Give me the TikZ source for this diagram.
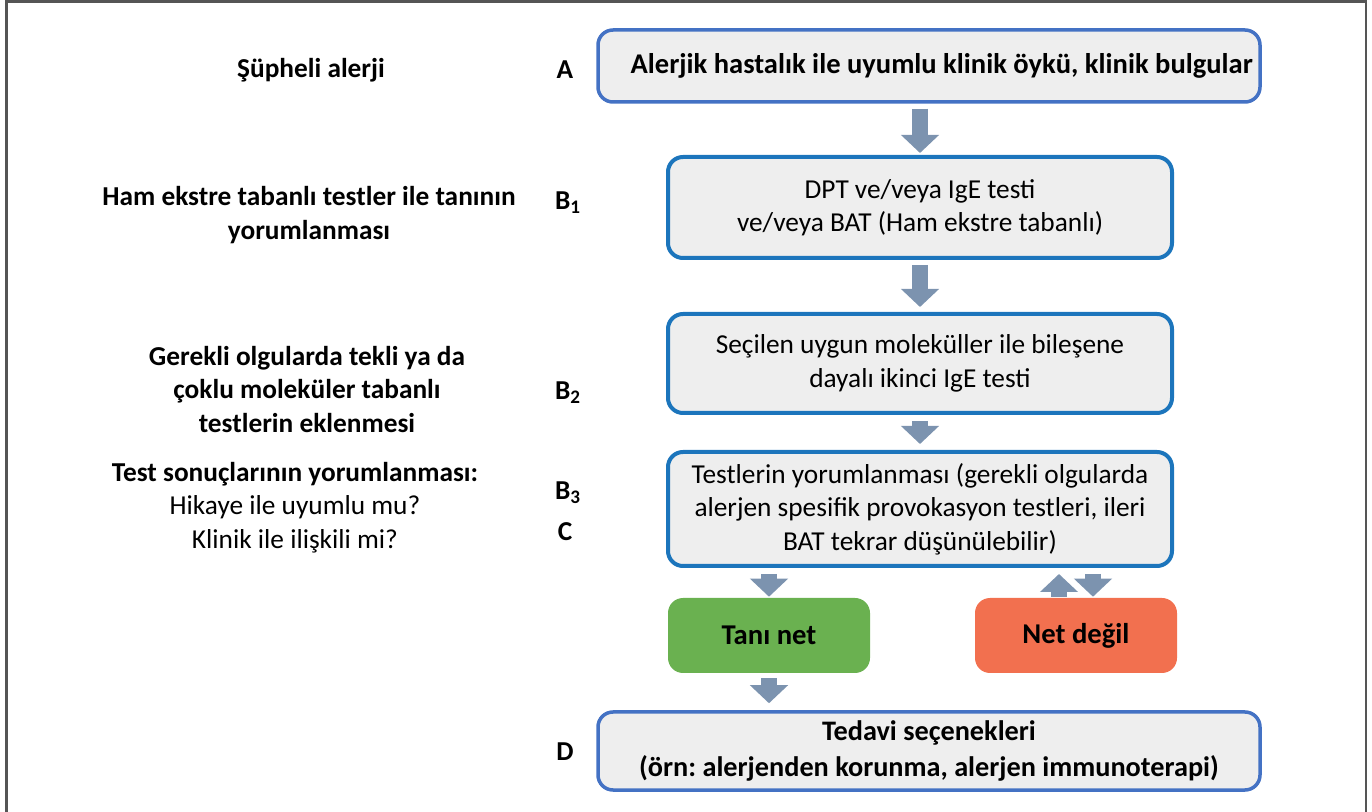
\documentclass[tikz,border=0pt]{standalone}
\usepackage{fontspec}
\setmainfont{Carlito}
\usetikzlibrary{arrows.meta}
\frenchspacing
\def\upx{0.75pt}
\definecolor{boxfill}{HTML}{EEEEEE}
\definecolor{edgeA}{HTML}{4472C4}
\definecolor{edgeB}{HTML}{1C75BC}
\definecolor{flowgray}{HTML}{7C93AF}
\definecolor{okgreen}{HTML}{6AB150}
\definecolor{warnred}{HTML}{F2704F}
\definecolor{framegray}{HTML}{555555}
\tikzset{
  txt/.style={font=\fontsize{20.5}{25}\selectfont, align=center, inner sep=0pt},
  stepbox/.style={txt, rectangle, rounded corners=15*\upx, fill=boxfill, draw=edgeB, line width=4*\upx},
  wide/.style={stepbox, draw=edgeA, line width=3.5*\upx, minimum width=662*\upx},
  mid/.style={stepbox, minimum width=504*\upx},
  verdict/.style={txt, rectangle, rounded corners=15*\upx, minimum width=202*\upx, minimum height=75*\upx, font=\fontsize{21.5}{25}\selectfont\bfseries},
  lbl/.style={txt, font=\fontsize{20.5}{25}\selectfont\bfseries},
  flow/.style={draw=flowgray, line width=16*\upx, -{Triangle[length=18*\upx, width=37*\upx]}},
}
\begin{document}
\begin{tikzpicture}[x=0.75pt, y=-0.75pt]
\useasboundingbox (0,0) rectangle (1372,812);
% outer frame
\draw[framegray, line width=2.2*\upx] (6.5,812) -- (6.5,1.5) -- (1366,1.5) -- (1366,812);

% main column
\node[wide, minimum height=72*\upx, font=\fontsize{21.4}{25}\selectfont\bfseries] (A) at (929,66) {\hspace*{19pt}Alerjik hastalık ile uyumlu klinik öykü, klinik bulgular};
\node[mid, minimum height=101*\upx] (B1) at (920,207.5) {DPT ve/veya IgE testi\\ve/veya BAT (Ham ekstre tabanlı)};
\node[mid, minimum height=99*\upx] (B2) at (920,363.5) {Seçilen uygun moleküller ile bileşene\\dayalı ikinci IgE testi};
\node[mid, minimum height=114*\upx] (B3) at (920,509) {Testlerin yorumlanması (gerekli olgularda\\alerjen spesifik provokasyon testleri, ileri\\BAT tekrar düşünülebilir)};
\node[verdict, fill=okgreen] (ok) at (769,635.5) {Tanı net};
\node[verdict, fill=warnred] (unc) at (1076,635.5) {Net değil};
\node[wide, minimum height=78*\upx, font=\fontsize{21.2}{26.3}\selectfont\bfseries] (D) at (929,751) {Tedavi seçenekleri\\(örn: alerjenden korunma, alerjen immunoterapi)};

% block arrows
\draw[flow, shorten <=5*\upx, shorten >=2*\upx] (A.south -| B1.north) -- (B1.north);
\draw[flow, shorten <=5*\upx, shorten >=5*\upx] (B1.south) -- (B2.north);
\draw[flow, shorten <=6*\upx, shorten >=6*\upx] (B2.south) -- (B3.north);
\draw[flow, shorten <=6*\upx, shorten >=1*\upx] (B3.south -| ok.north) -- (ok.north);
\draw[flow, shorten <=5*\upx, shorten >=7*\upx] (ok.south) -- (ok.south |- D.north);
\draw[flow, shorten <=1*\upx, shorten >=6*\upx] ([xshift=-17*\upx]unc.north) -- ([xshift=-17*\upx]unc.north |- B3.south);
\draw[flow, shorten <=6*\upx, shorten >=1*\upx] ([xshift=17*\upx]unc.north |- B3.south) -- ([xshift=17*\upx]unc.north);

% stage descriptions
\node[lbl] (dA) at (311,70) {Şüpheli alerji};
\node[lbl] (dB1) at (309,215) {Ham ekstre tabanlı testler ile tanının\\yorumlanması};
\node[lbl] (dB2) at (307,389.5) {Gerekli olgularda tekli ya da\\çoklu moleküler tabanlı\\testlerin eklenmesi};
\node[txt] (dC) at (295,507.5) {\bfseries Test sonuçlarının yorumlanması:\\Hikaye ile uyumlu mu?\\Klinik ile ilişkili mi?};

% stage letters
\node[lbl] (lA) at (565,70) {A};
\node[lbl] (lB1) at (568,203) {B\textsubscript{1}};
\node[lbl] (lB2) at (568,393) {B\textsubscript{2}};
\node[lbl] (lB3) at (568,493) {B\textsubscript{3}};
\node[lbl] (lC) at (565,532) {C};
\node[lbl] (lD) at (565,752) {D};
\end{tikzpicture}
\end{document}
